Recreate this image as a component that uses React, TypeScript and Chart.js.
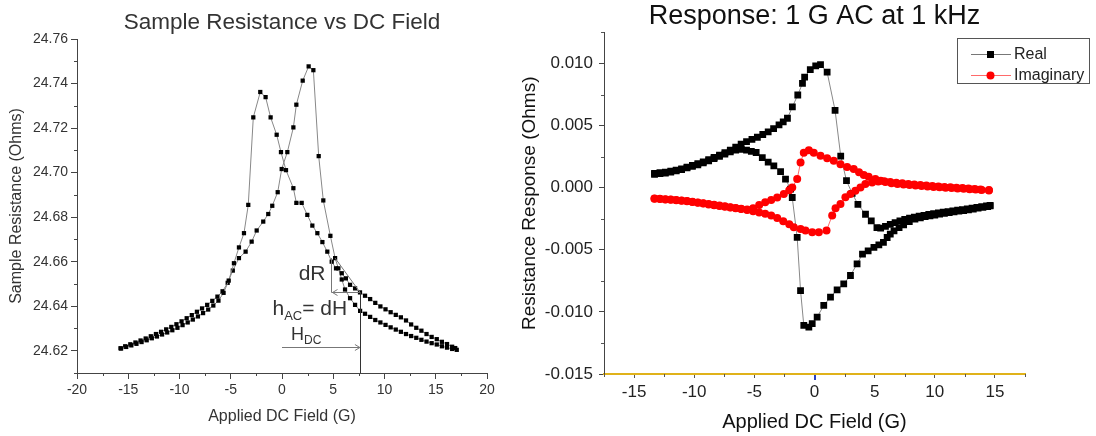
import React, { useEffect, useRef } from "react";
import { Chart, registerables } from "chart.js";

Chart.register(...registerables);
Chart.defaults.font.family = "'Liberation Sans', Arial, Helvetica, sans-serif";

// ---------------- Left chart data ----------------
const leftTitle = "Sample Resistance vs DC Field";
const leftXTitle = "Applied DC Field (G)";
const leftYTitle = "Sample Resistance (Ohms)";

// branch with peak at negative field
const leftFieldA = [-15.7, -15.2, -14.7, -14.2, -13.7, -13.2, -12.7, -12.2, -11.7, -11.2, -10.7, -10.2, -9.7, -9.2, -8.7, -8.2, -7.7, -7.2, -6.7, -6.2, -5.7, -5.2,
  -4.69, -4.2, -3.71, -3.29, -2.8, -2.12, -1.6, -1.11, -0.52, -0.1,
  0.39, 1.11, 1.4, 1.92, 2.47, 2.96, 3.45, 3.94, 4.42, 4.85, 5.27,
  5.83, 6.23, 6.64, 7.13, 7.61,
  8.1, 8.6, 9.1, 9.6, 10.1, 10.6, 11.1, 11.6, 12.1, 12.6, 13.1, 13.6, 14.1, 14.6, 15.1, 15.6, 16.1, 16.6, 16.9];
const leftResA = [24.6210, 24.6217, 24.6224, 24.6231, 24.6239, 24.6247, 24.6256, 24.6264, 24.6273, 24.6282, 24.6292, 24.6303, 24.6315, 24.6327, 24.6340, 24.6354, 24.6369, 24.6385, 24.6403, 24.6425, 24.6460, 24.6515,
  24.6593, 24.6664, 24.6728, 24.6855, 24.7248, 24.7362, 24.7339, 24.7248, 24.7170, 24.7092,
  24.7011, 24.6930, 24.6864, 24.6864, 24.6810, 24.6762, 24.6728, 24.6688, 24.6645, 24.6600, 24.6570,
  24.6548, 24.6525, 24.6496, 24.6480, 24.6462,
  24.6447, 24.6432, 24.6415, 24.6399, 24.6386, 24.6373, 24.6361, 24.6350, 24.6336, 24.6318, 24.6303, 24.6290, 24.6275, 24.6262, 24.6252, 24.6240, 24.6230, 24.6218, 24.6212];

// branch with peak at positive field
const leftFieldB = [-15.76, -15.3, -14.8, -14.3, -13.8, -13.3, -12.8, -12.3, -11.8, -11.3, -10.8, -10.3, -9.8, -9.3, -8.8, -8.3, -7.8, -7.3, -6.8, -6.3, -5.8, -5.3,
  -4.8, -4.2, -3.55, -2.96, -2.47, -1.83, -1.34, -0.95, -0.42, -0.03,
  0.52, 1.11, 1.4, 2.02, 2.6, 3.06, 3.58, 4.03, 4.72, 5.18, 5.5,
  5.83, 6.15, 6.64, 7.13, 7.62,
  8.1, 8.6, 9.1, 9.6, 10.1, 10.6, 11.1, 11.6, 12.1, 12.6, 13.1, 13.6, 14.1, 14.6, 15.1, 15.6, 16.1, 16.6, 17.05];
const leftResB = [24.6211, 24.6220, 24.6229, 24.6237, 24.6246, 24.6255, 24.6265, 24.6275, 24.6285, 24.6296, 24.6307, 24.6319, 24.6332, 24.6346, 24.6360, 24.6375, 24.6390, 24.6406, 24.6424, 24.6443, 24.6467, 24.6505,
  24.6560, 24.6616, 24.6645, 24.6690, 24.6740, 24.6780, 24.6814, 24.6851, 24.6912, 24.7016,
  24.7092, 24.7203, 24.7305, 24.7413, 24.7477, 24.7460, 24.7074, 24.6875, 24.6716, 24.6616, 24.6570,
  24.6520, 24.6475, 24.6436, 24.6406, 24.6379,
  24.6366, 24.6352, 24.6338, 24.6327, 24.6316, 24.6305, 24.6295, 24.6285, 24.6275, 24.6266, 24.6258, 24.6249, 24.6241, 24.6234, 24.6228, 24.6220, 24.6214, 24.6208, 24.6204];

const leftXTicks = [-20, -15, -10, -5, 0, 5, 10, 15, 20];
const leftXMinor = [-17.5, -12.5, -7.5, -2.5, 2.5, 7.5, 12.5, 17.5];
const leftYTicks = [24.62, 24.64, 24.66, 24.68, 24.70, 24.72, 24.74, 24.76];
const leftYMinor = [24.61, 24.63, 24.65, 24.67, 24.69, 24.71, 24.73, 24.75];

// annotation values (data space)
const hdcField = 7.6;
const hdcArrowRes = 24.6219;
const dHRes = 24.6463;
const dRField = 4.75;
const dRTopRes = 24.6616;
const hypStartField = 5.18;

// ---------------- Right chart data ----------------
const rightTitle = "Response: 1 G AC at 1 kHz";
const rightXTitle = "Applied DC Field (G)";
const rightYTitle = "Resistance Response (Ohms)";
const realLabel = "Real";
const imagLabel = "Imaginary";

const realFieldA = [-13.3, -12.85, -12.4, -11.95, -11.5, -11.05, -10.6, -10.15, -9.7, -9.25, -8.8, -8.35, -7.9, -7.45, -7.0, -6.55, -6.1, -5.65, -5.2, -4.75, -4.3, -3.85, -3.4, -2.95, -2.6,
  -2.25, -1.84, -1.39, -1.0, -0.82, -0.35, 0.1, 0.5, 1.05,
  1.71, 2.18, 2.66, 3.13, 3.61, 4.24, 4.72, 5.19, 5.5,
  5.9, 6.3, 6.7, 7.1, 7.5, 7.9, 8.3, 8.7, 9.1, 9.5, 9.9, 10.3, 10.7, 11.1, 11.5, 11.9, 12.3, 12.7, 13.1, 13.5, 13.9, 14.3, 14.6];
const realA = [0.00115, 0.00120, 0.00125, 0.00133, 0.00142, 0.00152, 0.00165, 0.00180, 0.00193, 0.00208, 0.00225, 0.00243, 0.00262, 0.00282, 0.00303, 0.00326, 0.00350, 0.00370, 0.00388, 0.00406, 0.00428, 0.00450, 0.00475, 0.00505, 0.00530,
  0.00559, 0.00650, 0.00746, 0.00840, 0.00890, 0.00950, 0.00980, 0.00990, 0.00930,
  0.00623, 0.00254, 0.00056, -0.00046, -0.00134, -0.00214, -0.00267, -0.00321, -0.00326,
  -0.00312, -0.00296, -0.00282, -0.00268, -0.00256, -0.00246, -0.00238, -0.00230, -0.00223, -0.00216, -0.00210, -0.00204, -0.00198, -0.00192, -0.00187, -0.00181, -0.00176, -0.00170, -0.00165, -0.00159, -0.00153, -0.00147, -0.00142];

const realFieldB = [-13.3, -12.85, -12.4, -11.95, -11.5, -11.05, -10.6, -10.15, -9.7, -9.25, -8.8, -8.35, -7.9, -7.45, -7.0, -6.55, -6.1, -5.65,
  -5.25, -4.85, -4.34, -3.85, -3.38, -2.82, -2.41, -1.99, -1.85, -1.44, -1.16, -0.89, -0.47, -0.19,
  0.22, 0.77, 1.33, 1.88, 2.43, 2.99, 3.54, 3.99, 4.46, 4.94, 5.35, 5.73, 6.04, 6.3, 6.61, 7.03, 7.41, 7.88, 8.35,
  8.8, 9.2, 9.6, 10.0, 10.4, 10.8, 11.2, 11.6, 12.0, 12.4, 12.8, 13.2, 13.6, 14.0, 14.4, 14.6];
const realB = [0.00108, 0.00113, 0.00118, 0.00126, 0.00135, 0.00146, 0.00159, 0.00171, 0.00184, 0.00199, 0.00216, 0.00233, 0.00252, 0.00270, 0.00288, 0.00302, 0.00308, 0.00303,
  0.00292, 0.00283, 0.00242, 0.00205, 0.00176, 0.00130, 0.00069, -0.00011, -0.00079, -0.00400, -0.00828, -0.01108, -0.01122, -0.01095,
  -0.01042, -0.00948, -0.00881, -0.00822, -0.00774, -0.00707, -0.00613, -0.00535, -0.00508, -0.00481, -0.00460, -0.00441, -0.00401, -0.00374, -0.00348, -0.00321, -0.00300, -0.00273, -0.00254,
  -0.00243, -0.00233, -0.00226, -0.00220, -0.00213, -0.00207, -0.00201, -0.00195, -0.00189, -0.00184, -0.00178, -0.00172, -0.00165, -0.00158, -0.00152, -0.00146];

const imagFieldA = [-13.3, -12.85, -12.4, -11.95, -11.5, -11.05, -10.6, -10.15, -9.7, -9.25, -8.8, -8.35, -7.9, -7.45, -7.0, -6.55, -6.1,
  -5.6, -5.1, -4.6, -4.1, -3.6, -3.1, -2.55, -2.1, -1.85, -1.44, -1.16, -0.89, -0.47, -0.06,
  0.5, 1.05, 1.6, 2.16, 2.71, 3.26, 3.7, 4.1, 4.5, 5.06, 5.5, 5.9,
  6.4, 6.9, 7.4, 7.9, 8.4, 8.9, 9.4, 9.9, 10.4, 10.9, 11.4, 11.9, 12.4, 12.9, 13.4, 13.9, 14.5];
const imagA = [-0.00090, -0.00092, -0.00095, -0.00098, -0.00102, -0.00106, -0.00110, -0.00115, -0.00121, -0.00128, -0.00135, -0.00142, -0.00148, -0.00154, -0.00160, -0.00166, -0.00172,
  -0.00176, -0.00165, -0.00140, -0.00118, -0.00100, -0.00079, -0.00051, -0.00020, 0.00002, 0.00069, 0.00202, 0.00282, 0.00302, 0.00282,
  0.00256, 0.00237, 0.00216, 0.00189, 0.00167, 0.00150, 0.00125, 0.00103, 0.00087, 0.00069, 0.00055, 0.00046,
  0.00036, 0.00030, 0.00026, 0.00021, 0.00017, 0.00013, 0.00010, 0.00006, 0.00003, 0.00000, -0.00003, -0.00006, -0.00009, -0.00012, -0.00015, -0.00018, -0.00022];

const imagFieldB = [-13.3, -12.85, -12.4, -11.95, -11.5, -11.05, -10.6, -10.15, -9.7, -9.25, -8.8, -8.35, -7.9, -7.45, -7.0, -6.55, -6.1,
  -5.6, -5.1, -4.6, -4.1, -3.6, -3.1, -2.6, -2.1, -1.72, -1.16, -0.75, -0.19,
  0.36, 1.0, 1.47, 1.75, 2.16, 2.57, 2.99, 3.4, 3.82, 4.23, 4.79, 5.3, 5.8,
  6.3, 6.8, 7.3, 7.8, 8.3, 8.8, 9.3, 9.8, 10.3, 10.8, 11.3, 11.8, 12.3, 12.8, 13.3, 13.8, 14.5];
const imagB = [-0.00088, -0.00090, -0.00093, -0.00096, -0.00100, -0.00104, -0.00108, -0.00113, -0.00119, -0.00125, -0.00131, -0.00138, -0.00144, -0.00150, -0.00157, -0.00164, -0.00170,
  -0.00180, -0.00190, -0.00200, -0.00210, -0.00225, -0.00245, -0.00270, -0.00295, -0.00319, -0.00332, -0.00345, -0.00359,
  -0.00359, -0.00345, -0.00225, -0.00165, -0.00132, -0.00078, -0.00051, -0.00025, 0.00002, 0.00029, 0.00042, 0.00050, 0.00052,
  0.00046, 0.00040, 0.00035, 0.00030, 0.00026, 0.00022, 0.00018, 0.00014, 0.00010, 0.00006, 0.00003, 0.00000, -0.00003, -0.00006, -0.00010, -0.00014, -0.00018];

const rightXTicks = [-15, -10, -5, 0, 5, 10, 15];
const rightXMinor = [-17.5, -12.5, -7.5, -2.5, 2.5, 7.5, 12.5, 17.5];
const rightYTicks = [-0.015, -0.010, -0.005, 0.0, 0.005, 0.010];
const rightYMinor = [-0.0125, -0.0075, -0.0025, 0.0025, 0.0075, 0.0125];

// ---------------- helpers ----------------
const pts = (xs: number[], ys: number[]) => xs.map((x, i) => ({ x, y: ys[i] }));

const minorTicks = (id: string, xMinor: number[], yMinor: number[], len: number, color: string) => ({
  id,
  afterDraw(chart: any) {
    const { ctx } = chart;
    const xs = chart.scales.x;
    const ys = chart.scales.y;
    ctx.save();
    ctx.strokeStyle = color;
    ctx.lineWidth = 1;
    ctx.beginPath();
    xMinor.forEach((v) => {
      const p = Math.round(xs.getPixelForValue(v)) + 0.5;
      ctx.moveTo(p, xs.top);
      ctx.lineTo(p, xs.top + len);
    });
    yMinor.forEach((v) => {
      const p = Math.round(ys.getPixelForValue(v)) + 0.5;
      ctx.moveTo(ys.right, p);
      ctx.lineTo(ys.right - len, p);
    });
    ctx.stroke();
    ctx.restore();
  },
});

function arrowHead(ctx: CanvasRenderingContext2D, x: number, y: number, dir: number) {
  ctx.beginPath();
  ctx.moveTo(x - dir * 5, y - 3);
  ctx.lineTo(x, y);
  ctx.lineTo(x - dir * 5, y + 3);
  ctx.stroke();
}

const leftAnnotations = {
  id: "leftAnnotations",
  afterDatasetsDraw(chart: any) {
    const { ctx } = chart;
    const xs = chart.scales.x;
    const ys = chart.scales.y;
    const X = (v: number) => xs.getPixelForValue(v);
    const Y = (v: number) => ys.getPixelForValue(v);
    ctx.save();
    // vertical H_DC line
    ctx.strokeStyle = "#333";
    ctx.lineWidth = 1;
    ctx.beginPath();
    ctx.moveTo(Math.round(X(hdcField)) + 0.5, Y(dHRes));
    ctx.lineTo(Math.round(X(hdcField)) + 0.5, ys.bottom);
    ctx.stroke();
    // H_DC arrow
    ctx.strokeStyle = "#777";
    const ay = Math.round(Y(hdcArrowRes)) + 0.5;
    ctx.beginPath();
    ctx.moveTo(X(0), ay);
    ctx.lineTo(X(hdcField), ay);
    ctx.stroke();
    arrowHead(ctx, X(hdcField), ay, 1);
    // dR vertical
    const vx = Math.round(X(dRField)) + 0.5;
    const hy = Math.round(Y(dHRes)) + 0.5;
    ctx.beginPath();
    ctx.moveTo(vx, Y(dRTopRes));
    ctx.lineTo(vx, hy);
    ctx.stroke();
    // dH horizontal with arrow to the left
    ctx.beginPath();
    ctx.moveTo(X(hdcField), hy);
    ctx.lineTo(vx, hy);
    ctx.stroke();
    arrowHead(ctx, vx + 1, hy, -1);
    // hypotenuse
    ctx.beginPath();
    ctx.moveTo(X(hypStartField), Y(dRTopRes));
    ctx.lineTo(X(hdcField), Y(dHRes));
    ctx.stroke();

    // texts
    ctx.fillStyle = "#333";
    ctx.textBaseline = "alphabetic";
    ctx.font = "21px 'Liberation Sans', Arial, sans-serif";
    ctx.textAlign = "right";
    ctx.fillText("dR", vx - 6, Y(dHRes) - 12);
    ctx.textAlign = "left";
    let tx = vx - 59;
    const by = Y(dHRes) + 23;
    ctx.fillText("h", tx, by);
    tx += ctx.measureText("h").width;
    ctx.font = "13px 'Liberation Sans', Arial, sans-serif";
    ctx.fillText("AC", tx, by + 5);
    tx += ctx.measureText("AC").width;
    ctx.font = "21px 'Liberation Sans', Arial, sans-serif";
    ctx.fillText("= dH", tx, by);
    // H_DC
    let hx = X(0) + 9;
    const hby = ay - 8;
    ctx.font = "18px 'Liberation Sans', Arial, sans-serif";
    ctx.fillText("H", hx, hby);
    hx += ctx.measureText("H").width;
    ctx.font = "12px 'Liberation Sans', Arial, sans-serif";
    ctx.fillText("DC", hx, hby + 4);
    ctx.restore();
  },
};

const rightExtras = {
  id: "rightExtras",
  afterDraw(chart: any) {
    const { ctx } = chart;
    const xs = chart.scales.x;
    ctx.save();
    // small blue marker at zero on axis
    ctx.fillStyle = "#2a3fc0";
    ctx.fillRect(Math.round(xs.getPixelForValue(0)) - 1, xs.top + 1, 2, 5);
    // legend
    const bx = 457.5, by = 38.5, bw = 132, bh = 45;
    ctx.fillStyle = "#fff";
    ctx.fillRect(bx, by, bw, bh);
    ctx.strokeStyle = "#555";
    ctx.lineWidth = 1;
    ctx.strokeRect(bx, by, bw, bh);
    const rows = [
      { label: realLabel, line: "#777", fill: "#000", shape: "rect", y: 54 },
      { label: imagLabel, line: "#ff6a6a", fill: "#ff0000", shape: "circle", y: 75 },
    ];
    rows.forEach((r) => {
      ctx.strokeStyle = r.line;
      ctx.beginPath();
      ctx.moveTo(471, r.y + 0.5);
      ctx.lineTo(511, r.y + 0.5);
      ctx.stroke();
      ctx.fillStyle = r.fill;
      if (r.shape === "rect") {
        ctx.fillRect(487, r.y - 3, 7, 7);
      } else {
        ctx.beginPath();
        ctx.arc(490.5, r.y + 0.5, 4, 0, Math.PI * 2);
        ctx.fill();
      }
      ctx.fillStyle = "#222";
      ctx.font = "16px 'Liberation Sans', Arial, sans-serif";
      ctx.textBaseline = "middle";
      ctx.textAlign = "left";
      ctx.fillText(r.label, 514, r.y + 1);
    });
    ctx.restore();
  },
};

function leftConfig(): any {
  return {
    type: "scatter",
    data: {
      datasets: [
        { label: "A", data: pts(leftFieldA, leftResA), showLine: true, borderColor: "#888", borderWidth: 1, pointStyle: "rect", pointRadius: 3, pointBackgroundColor: "#000", pointBorderWidth: 0 },
        { label: "B", data: pts(leftFieldB, leftResB), showLine: true, borderColor: "#888", borderWidth: 1, pointStyle: "rect", pointRadius: 3, pointBackgroundColor: "#000", pointBorderWidth: 0 },
      ],
    },
    options: {
      responsive: false,
      animation: false,
      devicePixelRatio: 1,
      layout: { padding: { left: 0, right: 13, top: 0, bottom: 0 } },
      plugins: {
        legend: { display: false },
        tooltip: { enabled: false },
        title: { display: true, text: leftTitle, fullSize: false, color: "#333", font: { size: 22.5, weight: "normal" }, padding: { top: 9, bottom: 3 } },
      },
      scales: {
        x: {
          type: "linear", min: -20, max: 20,
          afterBuildTicks: (s: any) => { s.ticks = leftXTicks.map((v) => ({ value: v })); },
          afterFit: (s: any) => { s.height = 63; },
          ticks: { color: "#333", font: { size: 14 }, padding: 3, maxRotation: 0, autoSkip: false, callback: (v: any) => String(v) },
          grid: { display: true, drawOnChartArea: false, drawTicks: true, tickLength: 6, tickColor: "#444" },
          border: { display: true, color: "#444", width: 1 },
          title: { display: true, text: leftXTitle, color: "#333", font: { size: 16 }, padding: { top: 0, bottom: 10 } },
        },
        y: {
          type: "linear", min: 24.61, max: 24.76,
          afterBuildTicks: (s: any) => { s.ticks = leftYTicks.map((v) => ({ value: v })); },
          afterFit: (s: any) => { s.width = 77; },
          ticks: { color: "#333", font: { size: 14 }, padding: 3, autoSkip: false, callback: (v: any) => Number(v).toFixed(2) },
          grid: { display: true, drawOnChartArea: false, drawTicks: true, tickLength: 6, tickColor: "#444" },
          border: { display: true, color: "#444", width: 1 },
          title: { display: true, text: leftYTitle, color: "#333", font: { size: 16 }, padding: { top: 7, bottom: 0 } },
        },
      },
    },
    plugins: [minorTicks("leftMinor", leftXMinor, leftYMinor, 3, "#444"), leftAnnotations],
  };
}

function rightConfig(): any {
  const realStyle = { showLine: true, borderColor: "#888", borderWidth: 1, pointStyle: "rect", pointRadius: 4.8, pointBackgroundColor: "#000", pointBorderWidth: 0, order: 1 };
  const imagStyle = { showLine: true, borderColor: "#ff6a6a", borderWidth: 1, pointStyle: "circle", pointRadius: 4, pointBackgroundColor: "#ff0000", pointBorderWidth: 0, order: 0 };
  return {
    type: "scatter",
    data: {
      datasets: [
        { label: realLabel, data: pts(realFieldA, realA), ...realStyle },
        { label: realLabel, data: pts(realFieldB, realB), ...realStyle },
        { label: imagLabel, data: pts(imagFieldA, imagA), ...imagStyle },
        { label: imagLabel, data: pts(imagFieldB, imagB), ...imagStyle },
      ],
    },
    options: {
      responsive: false,
      animation: false,
      devicePixelRatio: 1,
      layout: { padding: { left: 0, right: 71, top: 0, bottom: 0 } },
      plugins: {
        legend: { display: false },
        tooltip: { enabled: false },
        title: { display: true, text: rightTitle, fullSize: false, color: "#111", font: { size: 27, weight: "normal" }, padding: { top: 0, bottom: 0 } },
      },
      scales: {
        x: {
          type: "linear", min: -17.5, max: 17.5,
          afterBuildTicks: (s: any) => { s.ticks = rightXTicks.map((v) => ({ value: v })); },
          afterFit: (s: any) => { s.height = 62; },
          ticks: { color: "#222", font: { size: 17 }, padding: 4, maxRotation: 0, autoSkip: false, callback: (v: any) => String(v) },
          grid: { display: true, drawOnChartArea: false, drawTicks: true, tickLength: 4, tickColor: "#555" },
          border: { display: true, color: "#e0b21a", width: 2 },
          title: { display: true, text: rightXTitle, color: "#111", font: { size: 20 }, padding: { top: 0, bottom: 2 } },
        },
        y: {
          type: "linear", min: -0.015, max: 0.0125,
          afterBuildTicks: (s: any) => { s.ticks = rightYTicks.map((v) => ({ value: v })); },
          afterFit: (s: any) => { s.width = 104; },
          ticks: { color: "#222", font: { size: 17 }, padding: 6, autoSkip: false, callback: (v: any) => Number(v).toFixed(3) },
          grid: { display: true, drawOnChartArea: false, drawTicks: true, tickLength: 5, tickColor: "#444" },
          border: { display: true, color: "#444", width: 1 },
          title: { display: true, text: rightYTitle, color: "#111", font: { size: 19 }, padding: { top: 18, bottom: 0 } },
        },
      },
    },
    plugins: [minorTicks("rightMinor", rightXMinor, rightYMinor, 3, "#555"), rightExtras],
  };
}

export default function App() {
  const leftRef = useRef<HTMLCanvasElement>(null);
  const rightRef = useRef<HTMLCanvasElement>(null);
  useEffect(() => {
    const left = new Chart(leftRef.current as HTMLCanvasElement, leftConfig());
    const right = new Chart(rightRef.current as HTMLCanvasElement, rightConfig());
    return () => {
      left.destroy();
      right.destroy();
    };
  }, []);
  return (
    <div style={{ position: "absolute", left: 0, top: 0, width: 1096, height: 436, background: "#fff", overflow: "hidden" }}>
      <canvas ref={leftRef} width={500} height={436} style={{ position: "absolute", left: 0, top: 0, width: 500, height: 436 }} />
      <canvas ref={rightRef} width={596} height={436} style={{ position: "absolute", left: 500, top: 0, width: 596, height: 436 }} />
    </div>
  );
}
